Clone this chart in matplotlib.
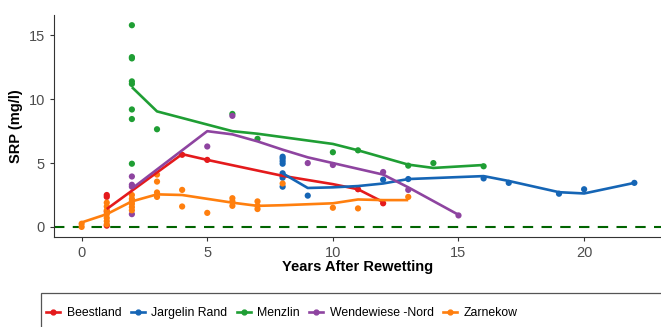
import matplotlib.pyplot as plt
from matplotlib.lines import Line2D
from matplotlib.patches import Rectangle

plt.rcParams['font.family'] = ['Liberation Sans', 'DejaVu Sans']

sites = ["Beestland", "Jargelin Rand", "Menzlin", "Wendewiese -Nord", "Zarnekow"]
colors = ["#E41A1C", "#1565B5", "#1F9E34", "#8E44A0", "#FF7F0E"]

# measured SRP per sampling (years after rewetting, mg/l)
beest_x = [1, 1, 1, 1, 4, 5, 8, 11, 12]
beest_y = [2.5, 2.35, 0.1, 1.2, 5.65, 5.25, 4.0, 2.95, 1.85]
jarg_x = [8, 8, 8, 8, 8, 8, 8, 9, 12, 13, 16, 17, 19, 20, 22]
jarg_y = [5.5, 5.35, 5.15, 4.95, 4.2, 3.85, 3.15, 2.45, 3.7, 3.75, 3.8, 3.45, 2.6, 2.95, 3.45]
menz_x = [2, 2, 2, 2, 2, 2, 2, 2, 3, 6, 7, 10, 11, 13, 14, 16]
menz_y = [15.8, 13.3, 13.2, 11.4, 11.2, 9.2, 8.45, 4.95, 7.65, 8.85, 6.9, 5.85, 6.0, 4.8, 5.0, 4.75]
wend_x = [2, 2, 2, 2, 5, 6, 9, 10, 12, 13, 15]
wend_y = [3.95, 3.3, 3.15, 1.0, 6.3, 8.7, 5.0, 4.85, 4.3, 2.9, 0.9]
zarn_x = [0, 0, 1, 1, 1, 1, 1, 1, 1, 2, 2, 2, 2, 2, 2, 3, 3, 3, 3, 4, 4, 5, 6, 6, 6,
          7, 7, 7, 8, 10, 11, 13]
zarn_y = [0.25, 0.0, 1.9, 1.6, 1.3, 1.0, 0.7, 0.45, 0.2, 2.5, 2.2, 2.0, 1.8, 1.55, 1.3,
          4.1, 3.55, 2.7, 2.35, 2.9, 1.6, 1.1, 2.25, 2.0, 1.65, 2.0, 1.65, 1.4, 3.4,
          1.5, 1.45, 2.35]

# smoothed trend per site
beest_lx = [1, 4, 5, 8, 10, 11, 12]
beest_ly = [1.4, 5.7, 5.25, 4.0, 3.35, 2.95, 1.95]
jarg_lx = [8, 9, 10, 11, 12, 13, 16, 17, 19, 20, 22]
jarg_ly = [4.2, 3.05, 3.1, 3.2, 3.4, 3.75, 3.98, 3.6, 2.72, 2.62, 3.45]
menz_lx = [2, 3, 6, 7, 10, 11, 13, 14, 16]
menz_ly = [10.95, 9.05, 7.5, 7.3, 6.5, 6.0, 4.88, 4.62, 4.85]
wend_lx = [2, 5, 6, 7, 8, 9, 10, 11, 12, 13, 15]
wend_ly = [3.0, 7.5, 7.25, 6.7, 6.05, 5.45, 5.0, 4.55, 4.1, 3.1, 0.95]
zarn_lx = [0, 1, 2, 3, 4, 5, 6, 7, 8, 10, 11, 12, 13]
zarn_ly = [0.35, 1.0, 2.0, 2.55, 2.5, 2.2, 1.9, 1.65, 1.7, 1.85, 2.15, 2.1, 2.1]

points = [(beest_x, beest_y), (jarg_x, jarg_y), (menz_x, menz_y), (wend_x, wend_y), (zarn_x, zarn_y)]
trends = [(beest_lx, beest_ly), (jarg_lx, jarg_ly), (menz_lx, menz_ly), (wend_lx, wend_ly), (zarn_lx, zarn_ly)]

W, H = 661, 327
fig = plt.figure(figsize=(W / 100, H / 100), dpi=100)
ax = fig.add_axes([54 / W, 1 - 237 / H, 608 / W, 222 / H])

for (px, py), c in zip(points, colors):
    ax.scatter(px, py, s=20, color=c, edgecolors='none', zorder=3)
for (lx, ly), c in zip(trends, colors):
    ax.plot(lx, ly, color=c, lw=1.9, zorder=4, solid_capstyle='butt')

ax.axhline(0, color='#006400', lw=1.5, ls=(0, (5, 4)), zorder=2)

ax.set_xlim(-1.1, 23.1)
ax.set_ylim(-0.79, 16.6)
ax.set_xticks([0, 5, 10, 15, 20])
ax.set_yticks([0, 5, 10, 15])
for s in ['top', 'right']:
    ax.spines[s].set_visible(False)
for s in ['left', 'bottom']:
    ax.spines[s].set_color('#333333')
    ax.spines[s].set_linewidth(0.8)
ax.tick_params(colors='#333333', labelcolor='#4D4D4D', labelsize=10.5, length=3, width=0.8)
ax.set_xlabel("Years After Rewetting", fontsize=10.5, fontweight='bold', labelpad=0)
ax.set_ylabel("SRP (mg/l)", fontsize=10.5, fontweight='bold', labelpad=4)

# legend strip along the bottom
fig.patches.append(Rectangle((41 / W, -0.1), 1, 1 - 293 / H + 0.1, transform=fig.transFigure,
                             fill=False, edgecolor='#555555', lw=0.9))
handles = [Line2D([], [], color=c, lw=1.9, marker='o', markersize=3.5) for c in colors]
fig.legend(handles, sites, loc='center left', bbox_to_anchor=(46 / W, 1 - 313 / H),
           ncol=5, frameon=False, fontsize=8.8, handlelength=1.15, handletextpad=0.55,
           columnspacing=0.75, borderaxespad=0, borderpad=0)

fig.savefig("out.png", dpi=100)
